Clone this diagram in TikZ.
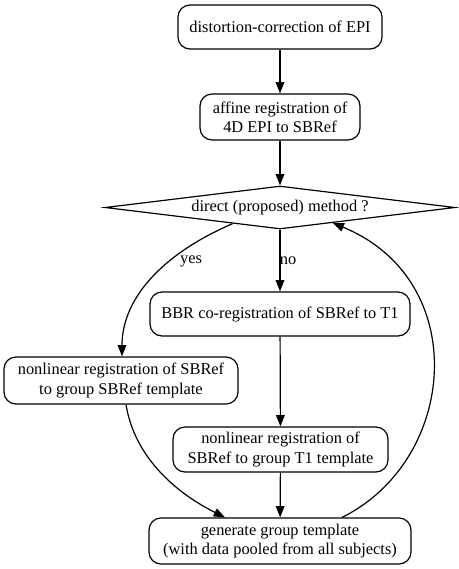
\documentclass[tikz,border=0pt]{standalone}
\usepackage{fontspec}
\setmainfont{Liberation Serif}
\usetikzlibrary{shapes.geometric,arrows.meta,calc}
\begin{document}
\begin{tikzpicture}[x=0.75pt,y=-0.75pt,
  every node/.style={font=\fontsize{12.3}{14.4}\selectfont},
  stepbox/.style={draw,line width=0.9pt,rounded corners=9pt,align=center,inner sep=0pt},
  decbox/.style={draw,line width=0.9pt,diamond,aspect=8,inner sep=0pt,
    minimum width=350*0.75pt,minimum height=43*0.75pt},
  conn/.style={line width=0.9pt,-{Triangle[length=8.5pt,width=6.5pt]}},
  lbl/.style={inner sep=0pt}]
\useasboundingbox (0,0) rectangle (459,569);
\node[stepbox,minimum width=204*0.75pt,minimum height=44*0.75pt] (b1) at (280,27) {distortion-correction of EPI};
\node[stepbox,minimum width=160*0.75pt,minimum height=46*0.75pt] (b2) at (280,117) {affine registration of\\4D EPI to SBRef};
\node[decbox] (dec) at (280,207.5) {direct (proposed) method ?};
\node[stepbox,minimum width=260*0.75pt,minimum height=44*0.75pt] (b3) at (280,314) {BBR co-registration of SBRef to T1};
\node[stepbox,minimum width=234*0.75pt,minimum height=47*0.75pt] (b4) at (121,380.5) {nonlinear registration of SBRef\\to group SBRef template};
\node[stepbox,minimum width=215*0.75pt,minimum height=45*0.75pt] (b5) at (280.5,449.5) {nonlinear registration of\\SBRef to group T1 template};
\node[stepbox,minimum width=262*0.75pt,minimum height=46*0.75pt] (b6) at (280,541) {generate group template\\(with data pooled from all subjects)};
\draw[conn] (b1) -- (b2);
\draw[conn] (b2) -- (dec);
\draw[conn] (dec) -- (b3);
\node[lbl] (lno) at (288,261) {no};
\draw[conn] ($(dec.south)!0.27!(dec.west)$) .. controls (160,255) and (122,300) .. ([xshift=1*0.75pt]b4.north);
\node[lbl] (lyes) at (191,261) {yes};
\draw[conn] (b3) -- (b5);
\draw[conn] ([xshift=5*0.75pt]b4.south) .. controls (135,460) and (180,495) .. ([xshift=-55*0.75pt]b6.north);
\draw[conn] (b5) -- (b6);
\draw[conn] ([xshift=62*0.75pt]b6.north) .. controls (458,460) and (472,280) .. ($(dec.south)!0.3!(dec.east)$);
\end{tikzpicture}
\end{document}
